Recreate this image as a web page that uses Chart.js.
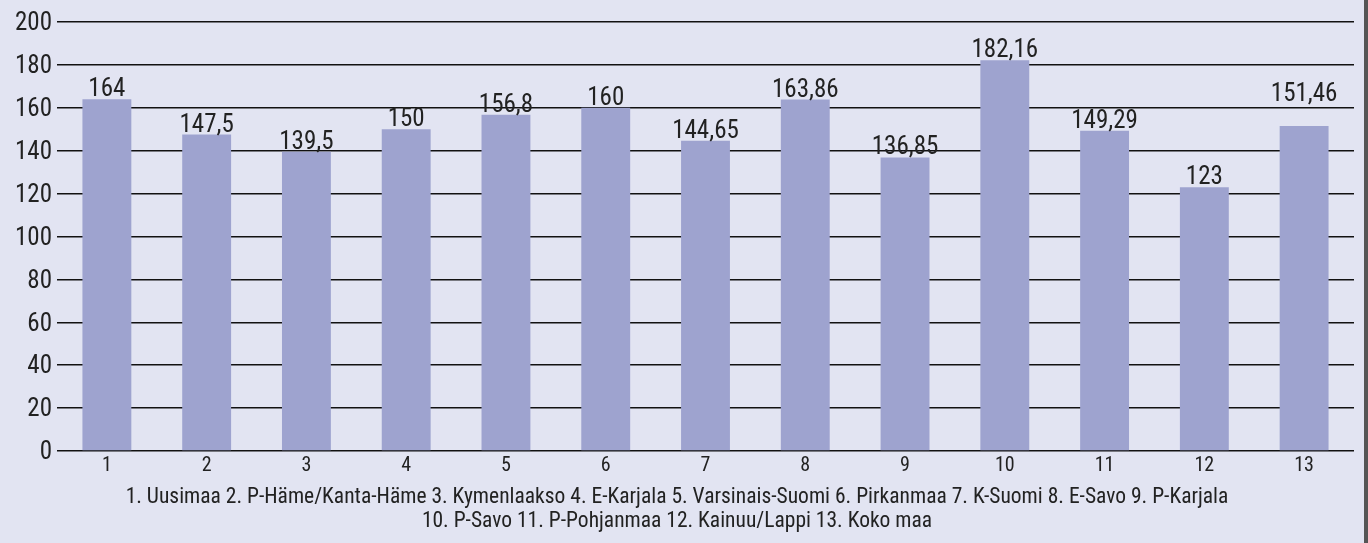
<!DOCTYPE html>
<html>
<head>
<meta charset="utf-8">
<script src="https://cdn.jsdelivr.net/npm/chart.js@4"></script>
<style>
  html, body { margin: 0; padding: 0; background: #e2e4f2; }
  #wrap { width: 1364px; height: 543px; border-right: 4px solid #555; background: #e2e4f2; }
  canvas { display: block; }
</style>
</head>
<body>
<div id="wrap"><canvas id="c" width="1364" height="543"></canvas></div>
<script>
const categories = ['1','2','3','4','5','6','7','8','9','10','11','12','13'];
const values = [164, 147.5, 139.5, 150, 156.8, 160, 144.65, 163.86, 136.85, 182.16, 149.29, 123, 151.46];
const yTicks = [0, 20, 40, 60, 80, 100, 120, 140, 160, 180, 200];
const footerLines = [
  '1. Uusimaa 2. P-Häme/Kanta-Häme 3. Kymenlaakso 4. E-Karjala 5. Varsinais-Suomi 6. Pirkanmaa 7. K-Suomi 8. E-Savo 9. P-Karjala',
  '10. P-Savo 11. P-Pohjanmaa 12. Kainuu/Lappi 13. Koko maa'
];

const FONT = "'Roboto Condensed', 'DejaVu Sans Condensed', sans-serif";
const fmt = v => String(v).replace('.', ',');

const valueLabels = {
  id: 'valueLabels',
  afterDatasetsDraw(chart, args, opts) {
    const ctx = chart.ctx;
    const meta = chart.getDatasetMeta(0);
    ctx.save();
    ctx.font = '25px ' + FONT;
    ctx.fillStyle = '#222';
    ctx.textAlign = 'center';
    ctx.textBaseline = 'alphabetic';
    meta.data.forEach((bar, i) => {
      const raise = (opts.raise && opts.raise[i]) || 0;
      ctx.fillText(fmt(values[i]), bar.x, bar.y - opts.gap - raise);
    });
    ctx.restore();
  }
};

new Chart(document.getElementById('c'), {
  type: 'bar',
  data: {
    labels: categories,
    datasets: [{
      data: values,
      backgroundColor: '#9ea3cf',
      borderWidth: 0,
      barPercentage: 0.49,
      categoryPercentage: 1
    }]
  },
  options: {
    responsive: false,
    animation: false,
    layout: { padding: { top: 22, right: 10, bottom: 0, left: 0 } },
    plugins: {
      legend: { display: false },
      tooltip: { enabled: false },
      title: {
        display: true,
        position: 'bottom',
        text: footerLines,
        color: '#222',
        font: { family: FONT, size: 21.5, weight: 'normal', lineHeight: 24.5 / 21.5 },
        padding: { top: 4, bottom: 9 }
      },
      valueLabels: { gap: 3, raise: { 12: 22 } }
    },
    scales: {
      x: {
        grid: { display: false, drawTicks: false },
        border: { display: false },
        ticks: { color: '#222', font: { family: FONT, size: 20 }, padding: 3 },
        afterFit(scale) { scale.height = 30; }
      },
      y: {
        min: 0,
        max: 200,
        afterBuildTicks(scale) { scale.ticks = yTicks.map(v => ({ value: v })); },
        grid: { color: '#111', lineWidth: 1.5, drawTicks: false },
        border: { display: false },
        ticks: { color: '#222', font: { family: FONT, size: 25 }, padding: 5, labelOffset: 2 },
        afterFit(scale) { scale.width = 57; }
      }
    }
  },
  plugins: [valueLabels]
});
</script>
</body>
</html>
